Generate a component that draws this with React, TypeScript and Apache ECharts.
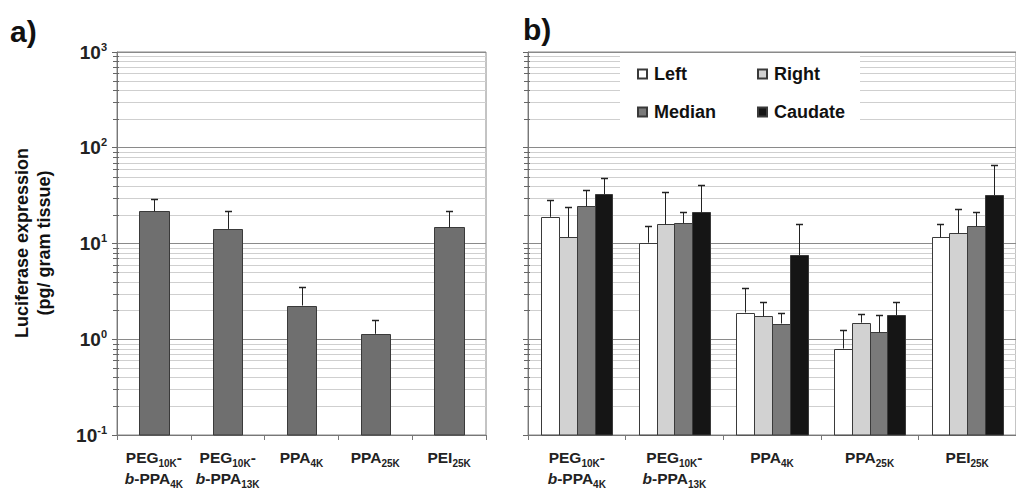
import React, { useEffect, useRef } from "react";
import * as echarts from "echarts";

// ---------- data ----------
const categories = ["PEG10K-b-PPA4K", "PEG10K-b-PPA13K", "PPA4K", "PPA25K", "PEI25K"];
const categoryLabels = [
  "{t|PEG}{s|10K}{t|-}\n{i|b}{t|-PPA}{s|4K}",
  "{t|PEG}{s|10K}{t|-}\n{i|b}{t|-PPA}{s|13K}",
  "{t|PPA}{s|4K}",
  "{t|PPA}{s|25K}",
  "{t|PEI}{s|25K}",
];

// panel a: whole liver
const totalValues = [21.6, 14.2, 2.25, 1.14, 14.7];
const totalErrTop = [29.5, 21.7, 3.52, 1.58, 21.7];

// panel b: per lobe
const lobeNames = ["Left", "Right", "Median", "Caudate"];
const leftValues = [19.0, 10.2, 1.9, 0.8, 11.6];
const leftErrTop = [28.6, 15.2, 3.39, 1.24, 15.8];
const rightValues = [11.7, 15.8, 1.74, 1.49, 12.8];
const rightErrTop = [23.9, 34.9, 2.45, 1.84, 22.7];
const medianValues = [24.5, 16.3, 1.46, 1.18, 15.2];
const medianErrTop = [35.8, 21.4, 1.9, 1.81, 21.2];
const caudateValues = [32.7, 21.1, 7.55, 1.78, 32.0];
const caudateErrTop = [47.8, 41.0, 15.9, 2.45, 66.2];

const yMin = 0.1;
const yMax = 1000;
const minorGridValues = [
  0.2, 0.3, 0.4, 0.5, 0.6, 0.7, 0.8, 0.9,
  2, 3, 4, 5, 6, 7, 8, 9,
  20, 30, 40, 50, 60, 70, 80, 90,
  200, 300, 400, 500, 600, 700, 800, 900,
];

// ---------- styles ----------
const FONT = "'Liberation Sans', Arial, sans-serif";
const lobeColors = ["#ffffff", "#d2d2d2", "#7a7a7a", "#151515"];
const totalColor = "#6f6f6f";
const barBorder = "#3a3a3a";

export default function App() {
  const ref = useRef<HTMLDivElement>(null);

  useEffect(() => {
    if (!ref.current) return;
    const chart = echarts.init(ref.current, undefined, { renderer: "svg" });

    const minorSeries = (idx: number) => ({
      type: "custom",
      xAxisIndex: idx,
      yAxisIndex: idx,
      z: 1,
      silent: true,
      clip: false,
      data: minorGridValues.map((v) => [0, v]),
      encode: { x: 0, y: 1 },
      renderItem: (params: any, api: any) => {
        const cs = params.coordSys;
        const y = Math.round(api.coord([0, api.value(1)])[1]) + 0.5;
        return {
          type: "group",
          children: [
            {
              type: "line",
              shape: { x1: cs.x, y1: y, x2: cs.x + cs.width, y2: y },
              style: { stroke: "#cfcfcf", lineWidth: 1 },
            },
            {
              type: "line",
              shape: { x1: cs.x - 4, y1: y, x2: cs.x + 2, y2: y },
              style: { stroke: "#666", lineWidth: 1 },
            },
          ],
        };
      },
    });

    const slotX = (api: any, ci: number, barIndex: number, nBars: number, catGap: number) => {
      const c = api.coord([ci, yMin])[0];
      const band = api.size([1, 0])[0];
      const groupW = band * (1 - catGap);
      const bw = groupW / nBars;
      return { left: c - groupW / 2 + barIndex * bw, width: bw };
    };

    const barSeries = (
      idx: number,
      name: string,
      vals: number[],
      color: string,
      barIndex: number,
      nBars: number,
      catGap: number
    ) => ({
      type: "custom",
      name,
      xAxisIndex: idx,
      yAxisIndex: idx,
      z: 3,
      data: vals.map((v, i) => [i, v]),
      encode: { x: 0, y: 1 },
      itemStyle: { color, borderColor: barBorder, borderWidth: 1 },
      renderItem: (_params: any, api: any) => {
        const ci = api.value(0);
        const s = slotX(api, ci, barIndex, nBars, catGap);
        const yTop = api.coord([ci, api.value(1)])[1];
        const yBase = api.coord([ci, yMin])[1];
        const x0 = Math.round(s.left) + 0.5;
        const x1 = Math.round(s.left + s.width) + 0.5;
        const yt = Math.round(yTop) + 0.5;
        return {
          type: "rect",
          shape: { x: x0, y: yt, width: x1 - x0, height: yBase - yt },
          style: { fill: color, stroke: barBorder, lineWidth: 1 },
        };
      },
    });

    const errSeries = (
      idx: number,
      vals: number[],
      tops: number[],
      barIndex: number,
      nBars: number,
      catGap: number
    ) => ({
      type: "custom",
      xAxisIndex: idx,
      yAxisIndex: idx,
      z: 5,
      silent: true,
      data: vals.map((v, i) => [i, v, tops[i]]),
      encode: { x: 0, y: [1, 2] },
      renderItem: (_params: any, api: any) => {
        const ci = api.value(0);
        const s = slotX(api, ci, barIndex, nBars, catGap);
        const x = Math.round(s.left + s.width / 2) + 0.5;
        const y0 = api.coord([ci, api.value(1)])[1];
        const y1 = Math.round(api.coord([ci, api.value(2)])[1]) + 0.5;
        return {
          type: "group",
          children: [
            { type: "line", shape: { x1: x, y1: y0, x2: x, y2: y1 }, style: { stroke: "#222", lineWidth: 1 } },
            { type: "line", shape: { x1: x - 3.5, y1: y1, x2: x + 3.5, y2: y1 }, style: { stroke: "#222", lineWidth: 1.5 } },
          ],
        };
      },
    });

    const xAxisCommon = {
      type: "category",
      data: categories,
      axisLine: { lineStyle: { color: "#777" } },
      axisTick: { show: true, length: 5, lineStyle: { color: "#777" } },
      splitLine: { show: false },
      axisLabel: {
        interval: 0,
        margin: 12,
        formatter: (_v: string, i: number) => categoryLabels[i],
        rich: {
          t: { fontFamily: FONT, fontWeight: "bold", fontSize: 15.5, color: "#222", lineHeight: 21 },
          i: { fontFamily: FONT, fontWeight: "bold", fontStyle: "italic", fontSize: 15.5, color: "#222", lineHeight: 21 },
          s: { fontFamily: FONT, fontWeight: "bold", fontSize: 10, color: "#222", lineHeight: 21, verticalAlign: "bottom", padding: [6, 0, 0, 0] },
        },
      },
    };

    const yAxisCommon = {
      type: "log",
      logBase: 10,
      min: yMin,
      max: yMax,
      axisLine: { show: true, lineStyle: { color: "#777" } },
      axisTick: { show: true, length: 5, lineStyle: { color: "#666" } },
      splitLine: { show: true, lineStyle: { color: "#8a8a8a", width: 1 } },
    };

    const lobeSeriesData = [leftValues, rightValues, medianValues, caudateValues];
    const lobeErrData = [leftErrTop, rightErrTop, medianErrTop, caudateErrTop];

    const legendCommon = {
      orient: "vertical",
      top: 60,
      itemWidth: 9,
      itemHeight: 9,
      itemGap: 20,
      icon: "rect",
      z: 6,
      textStyle: { fontFamily: FONT, fontWeight: "bold", fontSize: 18, color: "#111", padding: [0, 0, 0, 2] },
    };

    const option: any = {
      animation: false,
      textStyle: { fontFamily: FONT },
      grid: [
        { left: 117, top: 52, width: 369, height: 383, show: true, borderColor: "#888", borderWidth: 1, backgroundColor: "transparent" },
        { left: 528, top: 52, width: 492, height: 383, show: true, borderColor: "#888", borderWidth: 1, backgroundColor: "transparent" },
      ],
      xAxis: [
        { ...xAxisCommon, gridIndex: 0 },
        { ...xAxisCommon, gridIndex: 1 },
      ],
      yAxis: [
        {
          ...yAxisCommon,
          gridIndex: 0,
          axisLabel: {
            margin: 10,
            formatter: (v: number) => `{b|10}{sup|${Math.round(Math.log10(v))}}`,
            rich: {
              b: { fontFamily: FONT, fontWeight: "bold", fontSize: 19, color: "#222", lineHeight: 22 },
              sup: { fontFamily: FONT, fontWeight: "bold", fontSize: 11, color: "#222", lineHeight: 22, verticalAlign: "top", padding: [0, 0, 10, 0] },
            },
          },
        },
        { ...yAxisCommon, gridIndex: 1, axisLabel: { show: false } },
      ],
      legend: [
        { ...legendCommon, data: ["Left", "Median"], left: 632 },
        { ...legendCommon, data: ["Right", "Caudate"], left: 752 },
      ],
      graphic: [
        { type: "rect", z: 3, shape: { x: 620, y: 53, width: 240, height: 68 }, style: { fill: "#fff" } },
        { type: "text", x: 10, y: 16, style: { text: "a)", font: `bold 30px ${FONT}`, fill: "#111" } },
        { type: "text", x: 523, y: 14, style: { text: "b)", font: `bold 30px ${FONT}`, fill: "#111" } },
        {
          type: "text",
          x: 33,
          y: 243,
          rotation: Math.PI / 2,
          style: {
            text: "Luciferase expression\n(pg/ gram tissue)",
            font: `bold 18px ${FONT}`,
            fill: "#111",
            align: "center",
            verticalAlign: "middle",
            lineHeight: 22,
          },
        },
      ],
      series: [
        minorSeries(0),
        minorSeries(1),
        barSeries(0, "Total", totalValues, totalColor, 0, 1, 0.6),
        errSeries(0, totalValues, totalErrTop, 0, 1, 0.6),
        ...lobeNames.map((name, k) => barSeries(1, name, lobeSeriesData[k], lobeColors[k], k, 4, 0.27)),
        ...lobeNames.map((_n, k) => errSeries(1, lobeSeriesData[k], lobeErrData[k], k, 4, 0.27)),
      ],
    };

    chart.setOption(option);
    return () => chart.dispose();
  }, []);

  return (
    <div
      ref={ref}
      style={{ position: "fixed", left: 0, top: 0, width: 1016, height: 492, background: "#fff" }}
    />
  );
}
